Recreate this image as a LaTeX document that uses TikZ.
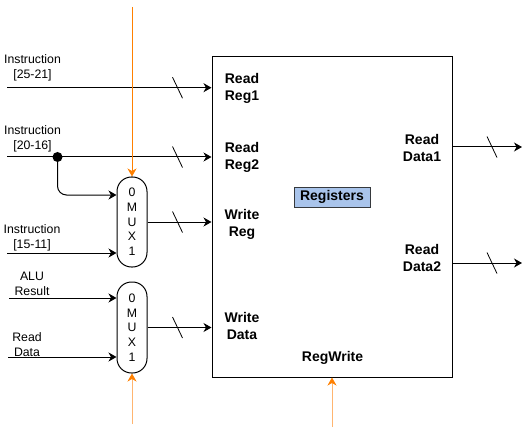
\documentclass[tikz,border=0pt]{standalone}
\usepackage{fontspec}
\setmainfont{Liberation Sans}
\usetikzlibrary{arrows.meta}
\definecolor{org}{HTML}{FF8000}
\definecolor{lorg}{HTML}{FFB570}
\definecolor{regfill}{HTML}{A9C4EB}
\definecolor{regdraw}{HTML}{36393D}
\begin{document}
\begin{tikzpicture}[x=1pt,y=-1pt,line width=1pt,
  arr/.style={-{Stealth[length=8pt,width=9pt,inset=2.5pt]}},
  oarr/.style={draw=org,-{Stealth[length=8pt,width=9pt,inset=2.5pt,color=org]}},
  larr/.style={draw=lorg,-{Stealth[length=8pt,width=9pt,inset=2.5pt,color=org]}},
  lbl/.style={font=\fontsize{12.3}{15}\selectfont,align=center,inner sep=0pt},
  blbl/.style={font=\bfseries\fontsize{14}{17}\selectfont,align=center,inner sep=0pt},
  mux/.style={draw,rounded corners=14.5pt,minimum width=30pt,inner sep=0pt,
    font=\fontsize{12.3}{14.7}\selectfont,align=center},
  slashmark/.style={line width=0.8pt}
]
\useasboundingbox (0,0) rectangle (531,436);

% register file
\node[draw,minimum width=240pt,minimum height=320pt,inner sep=0pt] (reg) at (332,217) {};
\node[draw=regdraw,fill=regfill,minimum width=76pt,minimum height=20pt,inner sep=0pt,
  font=\bfseries\fontsize{14}{17}\selectfont] (regs) at (332,197) {Registers};

% muxes
\node[mux,minimum height=90pt] (mux1) at (132,222) {0\\M\\U\\X\\1};
\node[mux,minimum height=91pt] (mux2) at (132,327.5) {0\\M\\U\\X\\1};

% labels inside register file
\node[blbl] (lrr1) at (242,88) {Read\\Reg1};
\node[blbl] (lrr2) at (242,157.5) {Read\\Reg2};
\node[blbl] (lwr) at (242,224.5) {Write\\Reg};
\node[blbl] (lwd) at (242,325.5) {Write\\Data};
\node[blbl] (lrd1) at (422,148) {Read\\Data1};
\node[blbl] (lrd2) at (422,257.5) {Read\\Data2};
\node[blbl] (lrw) at (332.5,358) {RegWrite};

% input labels
\node[lbl] (t1) at (32.5,68) {Instruction\\{}[25-21]};
\node[lbl] (t2) at (32.5,138.5) {Instruction\\{}[20-16]};
\node[lbl] (t3) at (32,238) {Instruction\\{}[15-11]};
\node[lbl] (t4) at (32,284) {ALU\\Result};
\node[lbl] (t5) at (27,344.5) {Read\\Data};

% coordinates
\coordinate (i1) at (7,87.7);
\coordinate (i2) at (7,157);
\coordinate (i4) at (7,253);
\coordinate (ialu) at (9,298);
\coordinate (ird) at (8,357);
\coordinate (o1) at (522,147);
\coordinate (o2) at (522,263);
\coordinate (ctop) at (132,7);
\coordinate (cb1) at (132,424);
\coordinate (cb2) at (332,427);

% junction dot
\node[circle,fill,inner sep=0pt,minimum size=10pt] (dot) at (57.5,157) {};

% connectors
\draw[arr] (i1) -- (i1 -| reg.west);
\draw[arr] (i2) -- (i2 -| reg.west);
\draw[arr,rounded corners=9pt] (dot.center) -- (57.5,195) -- (mux1.west |- 0,195);
\draw[arr] (i4) -- (i4 -| mux1.west);
\draw[arr] (ialu) -- (ialu -| mux2.west);
\draw[arr] (ird) -- (ird -| mux2.west);
\draw[arr] (mux1.east) -- (mux1.east -| reg.west);
\draw[arr] (mux2.east) -- (mux2.east -| reg.west);
\draw[arr] (o1 -| reg.east) -- (o1);
\draw[arr] (o2 -| reg.east) -- (o2);

% control signals
\draw[oarr] (ctop) -- (mux1.north);
\draw[larr] (cb1) -- (mux2.south);
\draw[larr] (cb2) -- (reg.south);

% bus width slashes
\foreach \y in {87.7,157,222,327.5}
  \draw[slashmark] (172.5,\y-10.5) -- (182.5,\y+10.5);
\foreach \y in {147,263}
  \draw[slashmark] (487,\y-10.5) -- (497,\y+10.5);
\end{tikzpicture}
\end{document}
